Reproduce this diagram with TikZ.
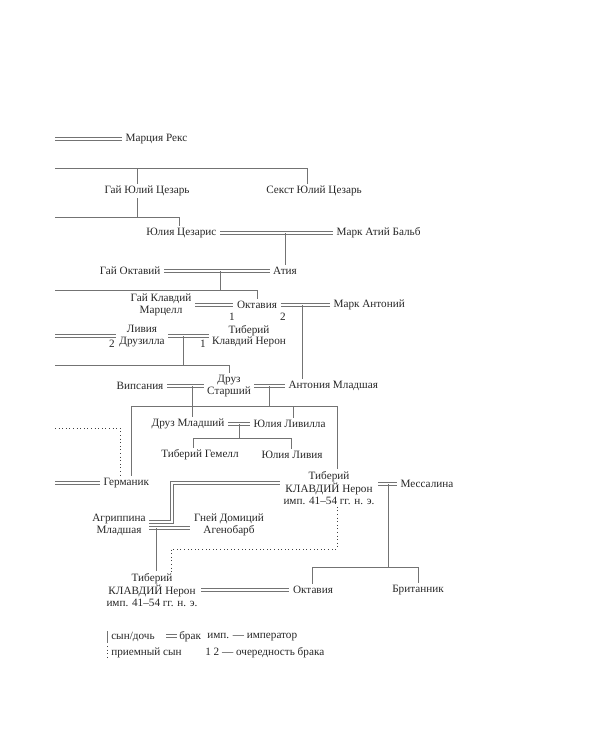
\documentclass[tikz,border=0pt]{standalone}
\usepackage{fontspec}
\setmainfont{Liberation Serif}
\usetikzlibrary{positioning, calc}

\begin{document}
\begin{tikzpicture}[
  x=0.75pt, y=-0.75pt,
  font=\fontsize{8.4}{8.7}\selectfont,
  person/.style = {align=center, inner xsep=2.5pt, inner ysep=1.5pt, text=black!85},
  kin/.style = {draw=black!55, line width=0.7pt},
  wed/.style = {draw=black!55, line width=0.8pt, double=white, double distance=1.2pt},
  adopt/.style = {draw=black!75, line width=0.7pt, dotted},
  ord/.style = {inner sep=1pt, text=black!85}
  ]
  \useasboundingbox (0,0) rectangle (600,750);

  % persons
  \node[person, anchor=west] (rex) at (122,139) {Марция Рекс};
  \node[person] (gjc) at (147,191) {Гай Юлий Цезарь};
  \node[person] (sjc) at (314,191) {Секст Юлий Цезарь};
  \node[person, anchor=east] (jc) at (220,233) {Юлия Цезарис};
  \node[person, anchor=west] (balb) at (333,233) {Марк Атий Бальб};
  \node[person] (atia) at (285,271) {Атия};
  \node[person, anchor=east] (oct1) at (164,271) {Гай Октавий};
  \node[person, anchor=east] (marc) at (195,305) {Гай Клавдий\\Марцелл};
  \node[person] (octa) at (257,305) {Октавия};
  \node[person, anchor=west] (anton) at (330,305) {Марк Антоний};
  \node[person] (liv) at (142,336) {Ливия\\Друзилла};
  \node[person] (tibn) at (249,336) {Тиберий\\Клавдий Нерон};
  \node[person] (drusus) at (229,386) {Друз\\Старший};
  \node[person, anchor=east] (vips) at (167,386) {Випсания};
  \node[person, anchor=west] (anto) at (285,386) {Антония Младшая};
  \node[person] (drmin) at (188,424) {Друз Младший};
  \node[person, anchor=west] (livil) at (250,424) {Юлия Ливилла};
  \node[person] (gem) at (200,455) {Тиберий Гемелл};
  \node[person] (jliv) at (292,455) {Юлия Ливия};
  \node[person, anchor=west] (germ) at (100,483) {Германик};
  \node[person] (claud) at (329,488) {Тиберий\\КЛАВДИЙ Нерон\\имп. 41–54 гг. н. э.};
  \node[person, anchor=west] (mess) at (397,484) {Мессалина};
  \node[person] (agr) at (119,525) {Агриппина\\Младшая};
  \node[person] (gnae) at (229,525) {Гней Домиций\\Агенобарб};
  \node[person] (nero) at (152,590) {Тиберий\\КЛАВДИЙ Нерон\\имп. 41–54 гг. н. э.};
  \node[person] (octb) at (313,590) {Октавия};
  \node[person] (brit) at (418,590) {Британник};

  % order of marriage
  \node[ord] (n1) at (232,317) {1};
  \node[ord] (n2) at (283,317) {2};
  \node[ord] (n3) at (112,344) {2};
  \node[ord] (n4) at (203,344) {1};

  % junctions
  \coordinate (rexL) at (55,139);
  \coordinate (r1a) at (55,168);
  \coordinate (r1b) at (307,168);
  \coordinate (r1c) at (137,168);
  \coordinate (r2a) at (55,217);
  \coordinate (r2b) at (179,217);
  \coordinate (m1) at (285,233);
  \coordinate (m2) at (220,271);
  \coordinate (r3a) at (55,290);
  \coordinate (r3b) at (257,290);
  \coordinate (m3) at (302,305);
  \coordinate (livL) at (55,336);
  \coordinate (m4) at (183,336);
  \coordinate (r4a) at (55,365);
  \coordinate (r4b) at (229,365);
  \coordinate (m5) at (192,386);
  \coordinate (m6) at (269,386);
  \coordinate (r5a) at (131,406);
  \coordinate (r5b) at (337,406);
  \coordinate (r5c) at (293,406);
  \coordinate (m7) at (239,424);
  \coordinate (r6a) at (193,438);
  \coordinate (r6b) at (291,438);
  \coordinate (germL) at (55,483);
  \coordinate (a1) at (55,428);
  \coordinate (a2) at (120,428);
  \coordinate (m8) at (388,484);
  \coordinate (r7a) at (312,567);
  \coordinate (r7b) at (418,567);
  \coordinate (c1) at (172,483);
  \coordinate (c2) at (172,522);
  \coordinate (m9) at (156,528);
  \coordinate (d1) at (337,549);
  \coordinate (d2) at (171,549);

  % lines
  \draw[wed] (rexL) -- (rex.west);
  \draw[kin] (r1a) -- (r1b) -- (r1b |- sjc.north);
  \draw[kin] (r1c) -- (r1c |- gjc.north);
  \draw[kin] (r1c |- gjc.south) -- (r1c |- r2a);
  \draw[kin] (r2a) -- (r2b) -- (r2b |- jc.north);
  \draw[wed] (jc.east) -- (balb.west);
  \draw[kin] (m1) -- (atia.north);
  \draw[wed] (oct1.east) -- (atia.west);
  \draw[kin] (m2) -- (m2 |- r3a);
  \draw[kin] (r3a) -- (r3b) -- (octa.north);
  \draw[wed] (marc.east) -- (octa.west);
  \draw[wed] (octa.east) -- (anton.west);
  \draw[kin] (m3) -- (m3 |- anto.north);
  \draw[wed] (livL) -- (livL -| liv.west);
  \draw[wed] (liv.east) -- (tibn.west);
  \draw[kin] (m4) -- (m4 |- r4a);
  \draw[kin] (r4a) -- (r4b) -- (drusus.north);
  \draw[wed] (vips.east) -- (drusus.west);
  \draw[wed] (drusus.east) -- (anto.west);
  \draw[kin] (m5) -- (m5 |- drmin.north);
  \draw[kin] (m6) -- (m6 |- r5a);
  \draw[kin] (r5a |- germ.north) -- (r5a) -- (r5b) -- (r5b |- claud.north);
  \draw[kin] (r5c) -- (r5c |- livil.north);
  \draw[wed] (drmin.east) -- (livil.west);
  \draw[kin] (m7) -- (m7 |- r6a);
  \draw[kin] (r6a |- gem.north) -- (r6a) -- (r6b) -- (r6b |- jliv.north);
  \draw[wed] (germL) -- (germ.west);
  \draw[adopt] (a1) -- (a2) -- (a2 |- germ.north);
  \draw[wed] (mess.west -| claud.east) -- (mess.west);
  \draw[kin] (m8) -- (m8 |- r7a);
  \draw[kin] (r7a |- octb.north) -- (r7a) -- (r7b) -- (r7b |- brit.north);
  \draw[wed] (c1 -| claud.west) -- (c1) -- (c2) -- (c2 -| agr.east);
  \draw[wed] ([yshift=-2.2pt]agr.east) -- ([yshift=-2.2pt]gnae.west);
  \draw[kin] (m9) -- (m9 |- nero.north);
  \draw[adopt] (d1 |- claud.south) -- (d1) -- (d2) -- (d2 |- nero.north);
  \draw[wed] (octb.west -| nero.east) -- (octb.west);

  % legend
  \coordinate (k1) at (107,631);
  \coordinate (k2) at (107,643);
  \coordinate (k3) at (166,636);
  \coordinate (k4) at (177,636);
  \coordinate (k5) at (107,646);
  \coordinate (k6) at (107,660);
  \draw[kin] (k1) -- (k2);
  \draw[wed] (k3) -- (k4);
  \draw[adopt] (k5) -- (k6);
  \node[person, anchor=west, inner xsep=0pt] (lson) at (111,637) {сын/дочь};
  \node[person, anchor=west, inner xsep=0pt] (lwed) at (179,637) {брак};
  \node[person, anchor=west, inner xsep=0pt] (limp) at (207,637) {имп. — император};
  \node[person, anchor=west, inner xsep=0pt] (ladopt) at (111,653) {приемный сын};
  \node[person, anchor=west, inner xsep=0pt] (lord) at (205,653) {1 2 — очередность брака};
\end{tikzpicture}
\end{document}
